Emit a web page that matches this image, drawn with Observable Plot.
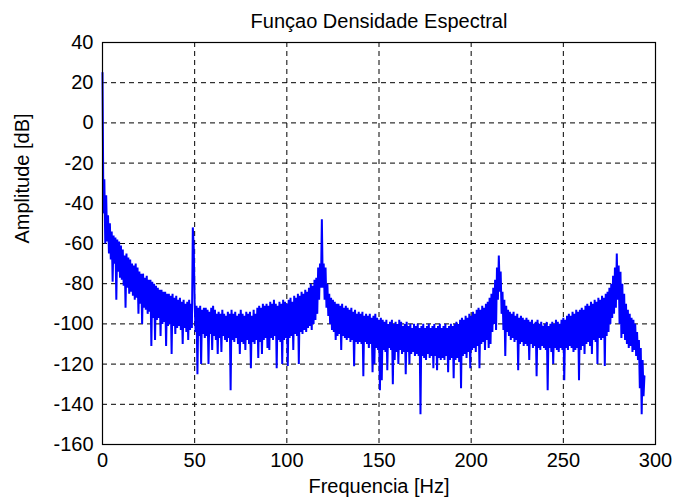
<!DOCTYPE html>
<html>
<head>
<meta charset="utf-8">
<script src="https://cdn.jsdelivr.net/npm/d3@7"></script>
<script src="https://cdn.jsdelivr.net/npm/@observablehq/plot@0.6"></script>
<style>
  html, body { margin: 0; padding: 0; background: #ffffff; }
  #chart { width: 673px; height: 497px; }
</style>
</head>
<body>
<div id="chart"></div>
<script>
// Text
const titleText = "Funçao Densidade Espectral";
const xLabelText = "Frequencia [Hz]";
const yLabelText = "Amplitude [dB]";

// Tick values
const xTicks = [0, 50, 100, 150, 200, 250, 300];
const yTicks = [40, 20, 0, -20, -40, -60, -80, -100, -120, -140, -160];

// Upper edge of the spectrum band, dB, at f = 0, 1, 2, ... Hz
const hi = [
  25, -28, -36, -46, -50, -54, -56, -57, -58, -59,
  -61, -63, -66, -65, -67, -68, -70, -71, -70, -72,
  -74, -75, -75, -77, -76, -78, -78, -79, -80, -81,
  -82, -83, -83, -84, -84, -85, -85, -86, -85, -87,
  -86, -88, -87, -89, -88, -90, -89, -88, -90, -52,
  -90, -91, -92, -91, -93, -92, -92, -93, -94, -92,
  -91, -93, -95, -94, -95, -93, -95, -96, -94, -95,
  -93, -95, -94, -96, -95, -93, -95, -96, -94, -95,
  -94, -96, -93, -95, -92, -91, -92, -90, -91, -90,
  -91, -89, -90, -88, -90, -91, -89, -90, -88, -89,
  -90, -88, -87, -89, -86, -87, -85, -86, -84, -85,
  -83, -84, -82, -80, -81, -78, -77, -72, -70, -48,
  -70, -72, -80, -85, -87, -88, -89, -90, -90, -91,
  -90, -92, -91, -92, -93, -92, -94, -93, -95, -94,
  -95, -94, -96, -95, -96, -95, -97, -96, -95, -97,
  -98, -97, -98, -99, -98, -100, -99, -98, -100, -99,
  -100, -98, -99, -101, -100, -99, -101, -100, -102, -100,
  -101, -100, -102, -101, -100, -102, -101, -100, -102, -101,
  -100, -102, -101, -100, -102, -101, -100, -102, -101, -100,
  -101, -100, -99, -100, -98, -97, -98, -96, -97, -95,
  -96, -94, -95, -93, -92, -93, -91, -92, -90, -89,
  -87, -85, -82, -78, -72, -66, -74, -84, -88, -91,
  -93, -94, -95, -94, -96, -95, -97, -96, -97, -98,
  -97, -98, -99, -98, -100, -99, -98, -100, -99, -101,
  -100, -99, -101, -100, -99, -100, -98, -99, -100, -98,
  -97, -98, -96, -95, -96, -94, -95, -93, -94, -93,
  -92, -93, -91, -90, -91, -89, -90, -88, -89, -87,
  -88, -86, -87, -85, -84, -82, -80, -76, -72, -65,
  -71, -74, -80, -85, -90, -93, -95, -97, -98, -100,
  -104, -108, -112, -118, -126
];

// Lower edge of the band (with the downward spikes), dB, at f = 0.5, 1.5, 2.5, ... Hz
const lo = [
  -45, -60, -59, -65, -68, -79, -70, -88, -74, -77,
  -78, -81, -92, -82, -85, -84, -86, -88, -87, -95,
  -90, -100, -92, -93, -95, -94, -111, -97, -108, -98,
  -97, -106, -100, -99, -111, -101, -100, -115, -101, -105,
  -102, -101, -103, -110, -102, -104, -108, -103, -102, -62,
  -104, -125, -106, -120, -105, -107, -106, -120, -105, -113,
  -106, -108, -115, -107, -114, -106, -108, -109, -107, -133,
  -108, -109, -107, -110, -115, -109, -110, -113, -108, -110,
  -122, -109, -110, -108, -117, -109, -115, -108, -107, -112,
  -113, -107, -108, -106, -122, -108, -109, -120, -108, -107,
  -121, -107, -106, -113, -105, -106, -120, -104, -105, -103,
  -104, -102, -101, -103, -100, -98, -95, -88, -82, -82,
  -88, -92, -96, -100, -103, -104, -108, -106, -105, -113,
  -106, -107, -108, -107, -109, -108, -121, -109, -110, -109,
  -110, -126, -109, -110, -112, -110, -124, -120, -112, -113,
  -133, -128, -113, -114, -123, -112, -113, -130, -118, -114,
  -120, -113, -115, -114, -125, -114, -120, -115, -114, -116,
  -115, -116, -145, -116, -117, -118, -115, -117, -116, -122,
  -116, -123, -117, -118, -117, -118, -116, -124, -118, -117,
  -127, -118, -117, -119, -132, -116, -115, -117, -114, -122,
  -113, -112, -114, -111, -122, -110, -109, -113, -108, -112,
  -110, -104, -100, -103, -88, -84, -95, -103, -116, -104,
  -106, -108, -107, -109, -108, -123, -110, -109, -111, -110,
  -111, -118, -110, -112, -111, -126, -112, -113, -111, -112,
  -113, -133, -112, -114, -120, -112, -113, -114, -112, -113,
  -128, -112, -113, -111, -112, -114, -113, -112, -128, -113,
  -111, -115, -110, -109, -111, -115, -108, -109, -120, -107,
  -108, -107, -121, -106, -104, -100, -97, -95, -92, -88,
  -100, -107, -105, -108, -110, -112, -111, -114, -113, -116,
  -118, -132, -145, -136
];

// Spectrum trace: alternate the upper and lower readings along frequency
const spectrum = [];
hi.forEach((v, i) => {
  spectrum.push({f: i, v: v});
  if (i < lo.length) spectrum.push({f: i + 0.5, v: lo[i]});
});

const font = "'Liberation Sans', Arial, Helvetica, sans-serif";

const chart = Plot.plot({
  width: 673,
  height: 497,
  marginLeft: 102,
  marginRight: 18,
  marginTop: 42,
  marginBottom: 53,
  style: {fontFamily: font, fontSize: "20px", color: "#000", background: "#fff"},
  x: {domain: [0, 300]},
  y: {domain: [-160, 40]},
  marks: [
    Plot.ruleY(yTicks.slice(1, -1), {stroke: "#000", strokeDasharray: "5,4", strokeWidth: 1}),
    Plot.ruleX(xTicks.slice(1, -1), {stroke: "#000", strokeDasharray: "5,4", strokeWidth: 1}),
    Plot.line(spectrum, {x: "f", y: "v", stroke: "#0000ff", strokeWidth: 2, strokeLinejoin: "miter", strokeMiterlimit: 1}),
    Plot.frame({stroke: "#000", strokeWidth: 1.2}),
    Plot.axisX({ticks: xTicks, tickSize: 0, tickPadding: 8, tickFormat: d => String(d), label: null, fontSize: 20}),
    Plot.axisY({ticks: yTicks, tickSize: 0, tickPadding: 9, tickFormat: d => String(d), label: null, fontSize: 20}),
    Plot.text([titleText], {text: d => d, frameAnchor: "top", lineAnchor: "middle", dy: -21, fontSize: 20, fill: "#000"}),
    Plot.text([xLabelText], {text: d => d, frameAnchor: "bottom", lineAnchor: "middle", dy: 42, fontSize: 20, fill: "#000"}),
    Plot.text([yLabelText], {text: d => d, frameAnchor: "left", lineAnchor: "middle", dx: -80, rotate: -90, fontSize: 20, fill: "#000"})
  ]
});
document.getElementById("chart").appendChild(chart);
</script>
</body>
</html>
